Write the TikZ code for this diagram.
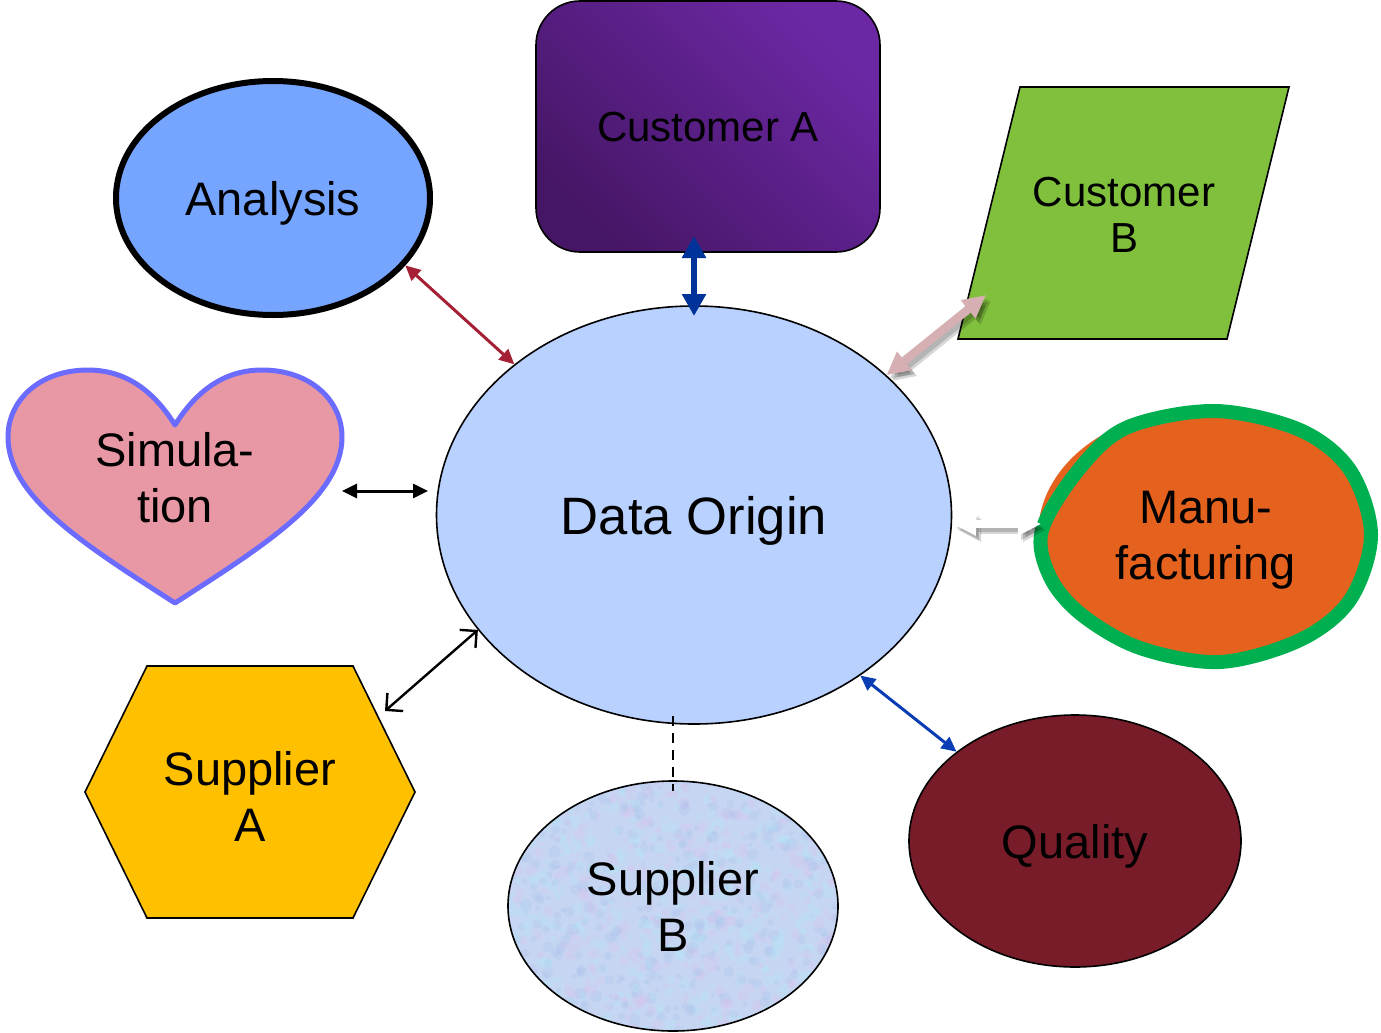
\documentclass[tikz,border=0pt]{standalone}
\usepackage{fontspec}
\setmainfont{Liberation Sans}
\usetikzlibrary{shapes.geometric,arrows.meta}
\definecolor{anfill}{HTML}{76A5FF}
\definecolor{dofill}{HTML}{B9D1FF}
\definecolor{cadark}{HTML}{461666}
\definecolor{calight}{HTML}{6C28A4}
\definecolor{cbfill}{HTML}{80C03C}
\definecolor{mforange}{HTML}{E5621E}
\definecolor{mfgreen}{HTML}{00B050}
\definecolor{simfill}{HTML}{E898A4}
\definecolor{simline}{HTML}{6B6BFF}
\definecolor{safill}{HTML}{FFC000}
\definecolor{sbbase}{HTML}{C6D6F2}
\definecolor{sbcA}{HTML}{B2E6F6}
\definecolor{sbcB}{HTML}{D8C4EE}
\definecolor{sbcC}{HTML}{A8C0EC}
\definecolor{qfill}{HTML}{781C2A}
\definecolor{arrred}{HTML}{A52035}
\definecolor{arrblue}{HTML}{003399}
\definecolor{arrblueq}{HTML}{0A3CB4}
\definecolor{arrpink}{HTML}{D5AFB1}
\newcommand\fsMain{\fontsize{23.5}{28}\selectfont}
\newcommand\fsDO{\fontsize{26.3}{31}\selectfont}
\newcommand\fsCust{\fontsize{21}{25}\selectfont}
\tikzset{
  lbl/.style={align=center, inner sep=0pt, text=black, font=\fsMain},
  ellnode/.style={ellipse, draw=black, line width=0.8pt, inner sep=0pt, align=center, font=\fsMain},
  thinarr/.style={line width=1.5pt, >={Triangle[length=7.5pt,width=7pt]}, <->},
  bigarr/.style={line width=3pt, >={Triangle[length=11pt,width=11.5pt]}, <->},
  fatarr/.style={line width=4.2pt, >={Triangle[length=11.5pt,width=11pt]}, <->},
  openarr/.style={line width=1.2pt, >={Straight Barb[length=6pt,width=12pt,line width=1.2pt]}, <->},
  shadowarr/.style={fatarr, draw=black, opacity=0.16}
}
\begin{document}
\begin{tikzpicture}[x=0.5pt,y=-0.5pt]
\useasboundingbox (0,0) rectangle (1381,1033);

% Analysis
\node[ellnode, fill=anfill, line width=3pt, minimum width=157pt, minimum height=117pt, text depth=0pt] (an) at (273,198) {Analysis};

% Customer A
\node[rectangle, rounded corners=22pt, draw=black, line width=0.8pt, left color=cadark, right color=calight, shading angle=135,
      minimum width=172pt, minimum height=125.5pt, inner sep=0pt, font=\fsCust, text=black, text depth=0pt] (ca) at (708,126.5) {Customer A};

% Customer B parallelogram
\filldraw[fill=cbfill, draw=black, line width=0.8pt] (1020,87) -- (1289,87) -- (1227,339) -- (958,339) -- cycle;
\node[lbl, font=\fsCust, text depth=0pt] (cb) at (1124,215) {Customer\\[-2pt]B};

% Data Origin
\node[ellnode, fill=dofill, minimum width=257.5pt, minimum height=209pt, font=\fsDO, text depth=0pt] (do) at (694,515) {Data Origin};

% Simulation heart
\filldraw[fill=simfill, draw=simline, line width=2.5pt, line join=round]
  (175,425) .. controls (200,385) and (230,370) .. (262,370)
  .. controls (310,370) and (342,400) .. (342,437)
  .. controls (342,497) and (265,545) .. (175,603)
  .. controls (85,545) and (8,497) .. (8,437)
  .. controls (8,400) and (40,370) .. (88,370)
  .. controls (120,370) and (150,385) .. (175,425) -- cycle;
\node[lbl] (sim) at (175,478) {Simula-\\tion};

% Manufacturing
\fill[mforange] (1195,535) ellipse [x radius=157, y radius=124];
\filldraw[fill=mforange, draw=mfgreen, line width=7pt] plot[smooth cycle, tension=0.55] coordinates {
  (1042,530) (1080,468) (1128,427) (1215,411) (1300,430) (1350,470) (1371,535)
  (1350,600) (1300,640) (1220,662) (1140,648) (1082,615) (1050,577)};
\node[lbl] (mf) at (1206,540) {Manu-\\facturing};

% Supplier A hexagon
\filldraw[fill=safill, draw=black, line width=0.8pt] (85,792) -- (147,666) -- (353,666) -- (415,792) -- (353,918) -- (147,918) -- cycle;
\node[lbl] (sa) at (250,796) {Supplier\\A};

% Supplier B textured ellipse
\begin{scope}
  \clip (673,906) ellipse [x radius=165, y radius=125];
  \fill[sbbase] (500,775) rectangle (845,1035);
  \pgfmathsetseed{7}
  \foreach \i in {1,...,420}{
    \fill[sbcA, opacity=0.28] ({505+340*rnd},{778+255*rnd}) circle [radius={2+4*rnd}];
    \fill[sbcB, opacity=0.28] ({505+340*rnd},{778+255*rnd}) circle [radius={2+4*rnd}];
    \fill[sbcC, opacity=0.24] ({505+340*rnd},{778+255*rnd}) circle [radius={2+4*rnd}];
  }
\end{scope}
\node[ellnode, minimum width=165pt, minimum height=125pt] (sb) at (673,906) {Supplier\\B};

% Quality
\node[ellnode, fill=qfill, minimum width=166pt, minimum height=126pt, text depth=0pt] (q) at (1075,841) {Quality};

% connector end points
\coordinate (caT) at (694,236);
\coordinate (caB) at (694,316);
\coordinate (cbA) at (986,295);
\coordinate (mfL) at (953,524);
\coordinate (mfR) at (1041,524);
\coordinate (simE) at (342,491);
\coordinate (doW) at (428,491);
\coordinate (saE) at (385,711);
\coordinate (doS) at (673,716);

% connectors
\draw[thinarr, draw=arrred, fill=arrred] (an.-27) -- (do.140);
\draw[bigarr, draw=arrblue] (caT) -- (caB);
\draw[shadowarr, transform canvas={xshift=1.5pt,yshift=-2pt}] (do.36) -- (cbA);
\draw[shadowarr, transform canvas={xshift=2.5pt,yshift=-3pt}] (do.36) -- (cbA);
\draw[fatarr, draw=arrpink] (do.36) -- (cbA);
\draw[shadowarr, transform canvas={xshift=1.5pt,yshift=-2pt}] (mfL) -- (mfR);
\draw[shadowarr, transform canvas={xshift=2.5pt,yshift=-3pt}] (mfL) -- (mfR);
\draw[fatarr, draw=white] (mfL) -- (mfR);
\draw[thinarr, draw=black] (simE) -- (doW);
\draw[openarr, draw=black] (saE) -- (do.208);
\draw[thinarr, draw=arrblueq] (do.-44) -- (q.143);
\draw[line width=1pt, dash pattern=on 5pt off 3.5pt] (doS) -- ([yshift=-5.5pt]sb.north);
\end{tikzpicture}
\end{document}
